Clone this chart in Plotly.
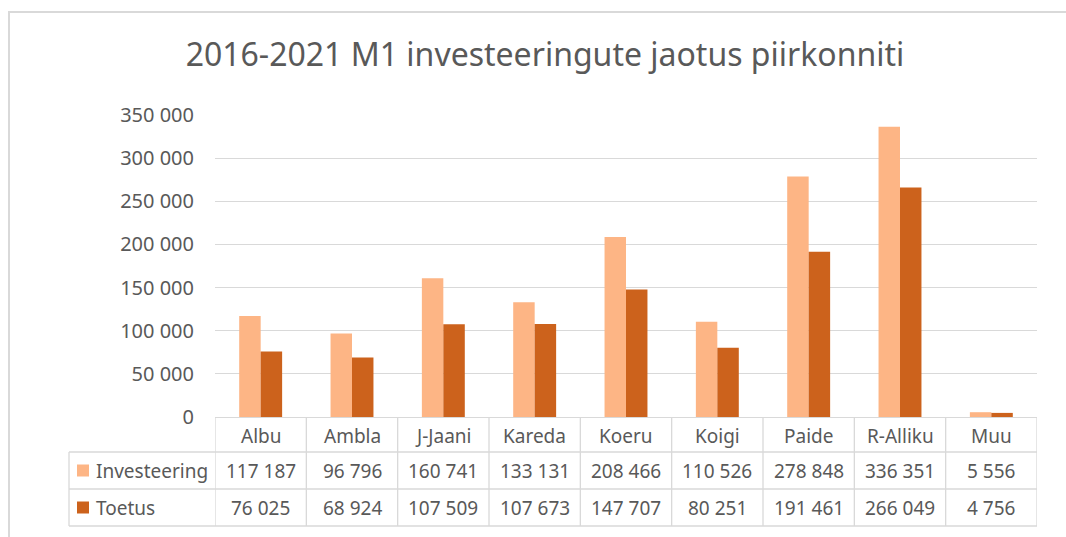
import plotly.graph_objects as go

categories = ["Albu", "Ambla", "J-Jaani", "Kareda", "Koeru", "Koigi", "Paide", "R-Alliku", "Muu"]
investeering = [117187, 96796, 160741, 133131, 208466, 110526, 278848, 336351, 5556]
toetus = [76025, 68924, 107509, 107673, 147707, 80251, 191461, 266049, 4756]
series_names = ["Investeering", "Toetus"]
y_ticks = [0, 50000, 100000, 150000, 200000, 250000, 300000, 350000]
title_text = "2016-2021 M1 investeeringute jaotus piirkonniti"

W, H = 1066, 537
L, R, T, B = 215, 1037, 115, 417  # plot area in pixels
C_INV = "#FDB585"
C_TOE = "#CC621C"
GRID = "#D9D9D9"
TXT = "#595959"
FONT = "Noto Sans"
TFS = 19


def fmt(v):
    return f"{v:,}".replace(",", " ")


def px_x(p):
    return (p - L) / (R - L)


def px_y(p):
    return (B - p) / (B - T)


fig = go.Figure()
fig.add_trace(go.Bar(x=categories, y=investeering, name=series_names[0],
                     marker=dict(color=C_INV, line=dict(width=0))))
fig.add_trace(go.Bar(x=categories, y=toetus, name=series_names[1],
                     marker=dict(color=C_TOE, line=dict(width=0))))

shapes = []
annotations = []
n = len(categories)
row_y = [417, 452, 489, 526]
line = dict(color=GRID, width=1.3)

# frame of chart
shapes.append(dict(type="rect", xref="paper", yref="paper",
                   x0=px_x(9), x1=px_x(1090), y0=px_y(12), y1=px_y(570),
                   line=dict(color="#D9D9D9", width=2), layer="below"))
# table horizontal lines
for yy in row_y[1:]:
    shapes.append(dict(type="line", xref="paper", yref="paper",
                       x0=px_x(69), x1=px_x(1037), y0=px_y(yy), y1=px_y(yy), line=line))
# vertical lines at category boundaries
for i in range(n + 1):
    shapes.append(dict(type="line", xref="x", yref="paper",
                       x0=i - 0.5, x1=i - 0.5, y0=px_y(row_y[0]), y1=px_y(row_y[3]), line=line))
# left edge of table
shapes.append(dict(type="line", xref="paper", yref="paper",
                   x0=px_x(69), x1=px_x(69), y0=px_y(row_y[1]), y1=px_y(row_y[3]), line=line))

# header labels
for i, c in enumerate(categories):
    annotations.append(dict(x=i, y=px_y((row_y[0] + row_y[1]) / 2 + 1), xref="x", yref="paper",
                            xanchor="center", yanchor="middle",
                            text=c, showarrow=False, font=dict(family=FONT, size=TFS, color=TXT)))
# values
for r, vals in enumerate([investeering, toetus]):
    ymid = (row_y[r + 1] + row_y[r + 2]) / 2
    yc = px_y(ymid)
    for i, v in enumerate(vals):
        annotations.append(dict(x=i, y=yc, xref="x", yref="paper", text=fmt(v),
                                xanchor="center", yanchor="middle",
                                showarrow=False, font=dict(family=FONT, size=TFS, color=TXT)))
    col = [C_INV, C_TOE][r]
    shapes.append(dict(type="rect", xref="paper", yref="paper",
                       x0=px_x(77), x1=px_x(89), y0=px_y(ymid - 6), y1=px_y(ymid + 6),
                       fillcolor=col, line=dict(width=0)))
    annotations.append(dict(x=px_x(94), y=yc, xref="paper", yref="paper",
                            xanchor="left", yanchor="middle",
                            text=series_names[r], showarrow=False,
                            font=dict(family=FONT, size=TFS, color=TXT)))

fig.update_layout(
    width=W, height=H,
    margin=dict(l=L, r=W - R, t=T, b=H - B, pad=0),
    paper_bgcolor="white", plot_bgcolor="white",
    barmode="group", bargap=0.53, bargroupgap=0,
    showlegend=False,
    title=dict(text=title_text, x=545 / W, xref="container", xanchor="center",
               y=1 - 55 / H, yref="container", yanchor="middle",
               font=dict(family=FONT, size=32, color=TXT)),
    shapes=shapes, annotations=annotations,
)
fig.update_xaxes(showticklabels=False, showgrid=False, showline=True, linecolor=GRID, linewidth=1.3,
                 ticks="", range=[-0.5, n - 0.5], fixedrange=True)
fig.update_yaxes(range=[0, 350000], tickvals=y_ticks, ticktext=[fmt(v) for v in y_ticks],
                 showgrid=True, gridcolor=GRID, gridwidth=1.3, zeroline=False, showline=False,
                 ticks="", ticklabelstandoff=20,
                 tickfont=dict(family=FONT, size=20, color=TXT))

fig.write_html("out.html", config={"displayModeBar": False},
               post_script="document.body.style.margin='0';document.body.style.overflow='hidden';")
